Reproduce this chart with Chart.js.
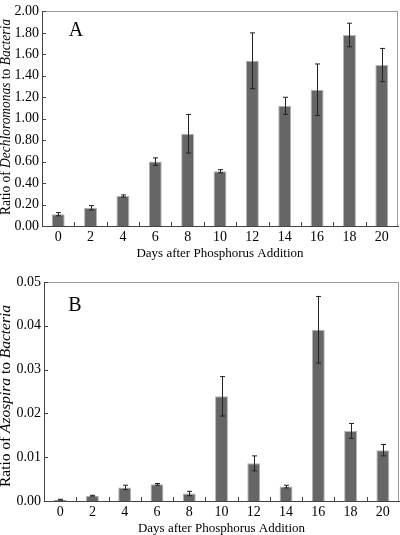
<!DOCTYPE html>
<html>
<head>
<meta charset="utf-8">
<script src="https://cdn.jsdelivr.net/npm/chart.js@4.4.1/dist/chart.umd.min.js"></script>
<style>
  html, body { margin: 0; padding: 0; background: #fff; }
  #wrap { position: relative; width: 400px; height: 535px; overflow: hidden; }
  #cA { position: absolute; left: 0; top: 0; }
  #cB { position: absolute; left: 0; top: 262px; }
</style>
</head>
<body>
<div id="wrap">
  <canvas id="cA" width="400" height="262"></canvas>
  <canvas id="cB" width="400" height="273"></canvas>
</div>
<script>
// ---- data ----
const days = ['0', '2', '4', '6', '8', '10', '12', '14', '16', '18', '20'];
const dechloroMean = [0.11, 0.17, 0.28, 0.60, 0.86, 0.51, 1.54, 1.12, 1.27, 1.78, 1.50];
const dechloroErr  = [0.015, 0.02, 0.01, 0.035, 0.18, 0.015, 0.26, 0.08, 0.24, 0.11, 0.155];
const azoMean = [0.0003, 0.0012, 0.0031, 0.0038, 0.0017, 0.0239, 0.0086, 0.0033, 0.0391, 0.0160, 0.0116];
const azoErr  = [0.0001, 0.0001, 0.0005, 0.0002, 0.0005, 0.0045, 0.0017, 0.0003, 0.0076, 0.0017, 0.0013];
const xTitle = 'Days after Phosphorus Addition';
const yTitleA = [['Ratio of ', false], ['Dechloromonas', true], [' to ', false], ['Bacteria', true]];
const yTitleB = [['Ratio of ', false], ['Azospira', true], [' to ', false], ['Bacteria', true]];

const SERIF = '"Liberation Serif", "Times New Roman", serif';

const decorPlugin = {
  id: 'decor',
  afterDatasetsDraw(chart, args, opts) {
    const ctx = chart.ctx;
    const ca = chart.chartArea;
    const xs = chart.scales.x, ys = chart.scales.y;
    ctx.save();
    // error bars
    ctx.strokeStyle = '#222';
    ctx.lineWidth = 1;
    const meta = chart.getDatasetMeta(0);
    opts.err.forEach((e, i) => {
      const v = chart.data.datasets[0].data[i];
      const x = Math.round(meta.data[i].x) + 0.5;
      const y1 = ys.getPixelForValue(v + e), y2 = ys.getPixelForValue(Math.max(0, v - e));
      ctx.beginPath();
      ctx.moveTo(x, y1); ctx.lineTo(x, y2);
      ctx.moveTo(x - 2.5, y1); ctx.lineTo(x + 2.5, y1);
      ctx.moveTo(x - 2.5, y2); ctx.lineTo(x + 2.5, y2);
      ctx.stroke();
    });
    // frame top & right
    ctx.strokeStyle = '#9a9a9a';
    ctx.beginPath();
    ctx.moveTo(ca.left, Math.round(ca.top) + 0.5);
    ctx.lineTo(Math.round(ca.right) - 0.5, Math.round(ca.top) + 0.5);
    ctx.lineTo(Math.round(ca.right) - 0.5, ca.bottom);
    ctx.stroke();
    // inside tick marks
    ctx.strokeStyle = '#444';
    ctx.beginPath();
    ys.ticks.forEach(t => {
      const y = Math.round(ys.getPixelForValue(t.value)) + 0.5;
      ctx.moveTo(ca.left, y); ctx.lineTo(ca.left + 4, y);
    });
    for (let i = 1; i < days.length; i++) {
      const x = Math.round((xs.getPixelForValue(i - 1) + xs.getPixelForValue(i)) / 2) + 0.5;
      ctx.moveTo(x, ca.bottom); ctx.lineTo(x, ca.bottom - 4);
    }
    ctx.stroke();
    // panel letter
    ctx.fillStyle = '#000';
    ctx.font = '20px ' + SERIF;
    ctx.textAlign = 'center';
    ctx.textBaseline = 'middle';
    ctx.fillText(opts.letter, opts.letterX, opts.letterY);
    // rotated y title with italic parts
    const fs = 14;
    const parts = opts.yTitle;
    let total = 0;
    parts.forEach(p => { ctx.font = (p[1] ? 'italic ' : '') + fs + 'px ' + SERIF; total += ctx.measureText(p[0]).width; });
    const sx = opts.yTitleLen / total;
    ctx.translate(opts.yTitleX, opts.yTitleY);
    ctx.rotate(-Math.PI / 2);
    ctx.scale(sx, 1);
    ctx.textAlign = 'left';
    ctx.textBaseline = 'alphabetic';
    let cx = -total / 2;
    parts.forEach(p => {
      ctx.font = (p[1] ? 'italic ' : '') + fs + 'px ' + SERIF;
      ctx.fillText(p[0], cx, 0);
      cx += ctx.measureText(p[0]).width;
    });
    ctx.restore();
  }
};

function makeChart(id, data, err, yMax, step, yW, xH, padTop, padRight, titlePad, deco) {
  return new Chart(document.getElementById(id), {
    type: 'bar',
    data: {
      labels: days,
      datasets: [{
        data: data,
        backgroundColor: '#666666',
        borderColor: '#b4b4b4',
        borderWidth: 1,
        barPercentage: 0.4,
        categoryPercentage: 1.0
      }]
    },
    options: {
      responsive: false,
      animation: false,
      devicePixelRatio: 1,
      layout: { padding: { top: padTop, right: padRight, left: 0, bottom: 0 } },
      plugins: { legend: { display: false }, tooltip: { enabled: false }, decor: deco },
      scales: {
        x: {
          grid: { display: false, drawTicks: false },
          border: { display: true, color: '#444', width: 1 },
          ticks: { color: '#000', padding: 3, font: { family: SERIF, size: 14 } },
          title: { display: true, text: xTitle, color: '#000', padding: { top: 0, bottom: titlePad },
                   font: { family: SERIF, size: 13 } },
          afterFit(s) { s.height = xH; }
        },
        y: {
          min: 0, max: yMax,
          grid: { display: false, drawTicks: false },
          border: { display: true, color: '#444', width: 1 },
          ticks: { stepSize: step, color: '#000', padding: 3, font: { family: SERIF, size: 14 },
                   callback: v => Number(v).toFixed(2) },
          afterFit(s) { s.width = yW; }
        }
      }
    },
    plugins: [decorPlugin]
  });
}

makeChart('cA', dechloroMean, dechloroErr, 2.0, 0.2, 42, 36, 5, 2, 1,
  { err: dechloroErr, letter: 'A', letterX: 76, letterY: 31, yTitle: yTitleA, yTitleX: 10, yTitleY: 117, yTitleLen: 196 });
makeChart('cB', azoMean, azoErr, 0.05, 0.01, 44, 34, 20, 1, -1,
  { err: azoErr, letter: 'B', letterX: 75, letterY: 44, yTitle: yTitleB, yTitleX: 10, yTitleY: 134, yTitleLen: 182 });
</script>
</body>
</html>
